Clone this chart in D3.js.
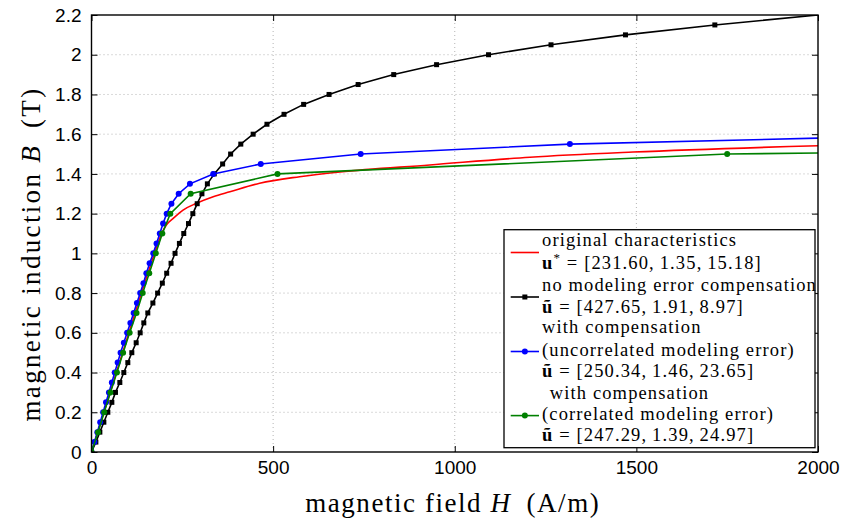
<!DOCTYPE html>
<html><head><meta charset="utf-8">
<script src="https://cdn.jsdelivr.net/npm/d3@7/dist/d3.min.js"></script>
<style>body{margin:0;background:#fff}svg{display:block}</style>
</head><body>
<svg id="chart" width="843" height="524"></svg>
<script>
// ---------- data (H in A/m, B in T) ----------
const xTicks = [0, 500, 1000, 1500, 2000];
const yTicks = [0, 0.2, 0.4, 0.6, 0.8, 1, 1.2, 1.4, 1.6, 1.8, 2, 2.2];
const yTickLabels = ["0","0.2","0.4","0.6","0.8","1","1.2","1.4","1.6","1.8","2","2.2"];
const xTickLabels = ["0","500","1000","1500","2000"];

// original characteristics (no markers)
const redH = [0, 60, 120, 170, 193, 206, 225, 252, 289, 335, 381, 463, 573, 684, 931, 1207, 1491, 2000];
const redB = [0, 0.35, 0.70, 0.98, 1.10, 1.143, 1.176, 1.218, 1.252, 1.285, 1.31, 1.353, 1.386, 1.41, 1.445, 1.484, 1.51, 1.542];

// no modeling error compensation (square markers)
const blackB = [0,0.05,0.1,0.15,0.2,0.25,0.3,0.35,0.4,0.45,0.5,0.55,0.6,0.65,0.7,0.75,0.8,0.85,0.9,0.95,1.0,1.05,1.1,1.15,1.2,1.25,1.3,1.35,1.4,1.45,1.5,1.55,1.6,1.65,1.7,1.75,1.8,1.85,1.9,1.95,2.0,2.05,2.1,2.15,2.2];
const blackH = [0,12,23,34,45,56,66,78,89,100,111,123,134,144,155,169,182,195,207,219,230,242,254,267,279,291,304,319,338,361,383,411,445,483,530,584,654,734,832,950,1093,1265,1470,1716,2000];

// with compensation, uncorrelated modeling error (circle markers)
const blueB = [0,0.05,0.1,0.15,0.2,0.25,0.3,0.35,0.4,0.45,0.5,0.55,0.6,0.65,0.7,0.75,0.8,0.85,0.9,0.95,1.0,1.05,1.1,1.15,1.2,1.25,1.3,1.35,1.4,1.45,1.5,1.55,1.58];
const blueH = [0,8,16,24,32,40,48,56,64,72,80,89,98,107,116,125,134,143,151,160,170,179,188,197,207,220,240,271,335,466,741,1317,2000];

// with compensation, correlated modeling error (circle markers)
const greenB = [0,0.1,0.2,0.3,0.4,0.5,0.6,0.7,0.8,0.9,1.0,1.1,1.2,1.3,1.4,1.5,1.505];
const greenH = [0,18,35,52,70,87,105,124,141,159,177,195,217,273,512,1750,2000];

const legendLines = [
  {t:"original characteristics"},
  {m:"u", sup:"*", t:" = [231.60,\u20091.35,\u200915.18]"},
  {t:"no modeling error compensation"},
  {m:"u\u0303", t:" = [427.65,\u20091.91,\u20098.97]"},
  {t:"with compensation"},
  {t:"(uncorrelated modeling error)"},
  {m:"u\u0303", t:" = [250.34,\u20091.46,\u200923.65]"},
  {t:"with compensation", indent:true},
  {t:"(correlated modeling error)"},
  {m:"u\u0303", t:" = [247.29,\u20091.39,\u200924.97]"}
];

// ---------- layout ----------
const svg = d3.select("#chart");
const L = 91.5, R = 818, T = 15, Bt = 452;
const x = d3.scaleLinear().domain([0, 2000]).range([L, R]);
const y = d3.scaleLinear().domain([0, 2.2]).range([Bt, T]);
const serif = "'Liberation Serif','Times New Roman',serif";
const sans = "'Liberation Sans',Arial,Helvetica,sans-serif";

svg.append("defs").append("clipPath").attr("id","clip")
  .append("rect").attr("x",L).attr("y",T).attr("width",R-L).attr("height",Bt-T);

// grid
const grid = svg.append("g").attr("stroke","#b4b4b4").attr("stroke-width",1).attr("stroke-dasharray","1,3");
xTicks.slice(1,-1).forEach(v => grid.append("line").attr("x1",x(v)).attr("x2",x(v)).attr("y1",T).attr("y2",Bt));
yTicks.slice(1,-1).forEach(v => grid.append("line").attr("x1",L).attr("x2",R).attr("y1",y(v)).attr("y2",y(v)));

// axes
function styleAxis(g){ g.select(".domain").remove(); g.selectAll(".tick line").attr("stroke","#000").attr("stroke-width",1); }
const xa = svg.append("g").attr("transform",`translate(0,${Bt})`)
  .call(d3.axisBottom(x).tickValues(xTicks).tickSize(-6).tickPadding(9).tickFormat((d,i)=>xTickLabels[i]));
styleAxis(xa);
xa.selectAll("text").attr("font-family",sans).attr("font-size",19).attr("fill","#000");
const ya = svg.append("g").attr("transform",`translate(${L},0)`)
  .call(d3.axisLeft(y).tickValues(yTicks).tickSize(-6).tickPadding(10).tickFormat((d,i)=>yTickLabels[i]));
styleAxis(ya);
ya.selectAll("text").attr("font-family",sans).attr("font-size",19).attr("fill","#000");
styleAxis(svg.append("g").attr("transform",`translate(0,${T})`).call(d3.axisTop(x).tickValues(xTicks).tickSize(-6).tickFormat("")));
styleAxis(svg.append("g").attr("transform",`translate(${R},0)`).call(d3.axisRight(y).tickValues(yTicks).tickSize(-6).tickFormat("")));

// series
const plot = svg.append("g").attr("clip-path","url(#clip)");
const line = d3.line().x(d=>x(d[0])).y(d=>y(d[1]));
const zip = (a,b)=>a.map((v,i)=>[v,b[i]]);
const red = zip(redH, redB), black = zip(blackH, blackB), blue = zip(blueH, blueB), green = zip(greenH, greenB);

plot.append("path").datum(red).attr("d", line.curve(d3.curveMonotoneX)).attr("fill","none").attr("stroke","#ff0000").attr("stroke-width",1.6);
line.curve(d3.curveLinear);
plot.append("path").datum(black).attr("d", line).attr("fill","none").attr("stroke","#000").attr("stroke-width",1.6);
plot.selectAll(".sq").data(black.filter(d=>d[0]<2000)).enter().append("rect")
  .attr("x",d=>x(d[0])-2.5).attr("y",d=>y(d[1])-2.5).attr("width",5).attr("height",5).attr("fill","#000");
plot.append("path").datum(blue).attr("d", line).attr("fill","none").attr("stroke","#0000ff").attr("stroke-width",1.6);
plot.selectAll(".bc").data(blue.filter(d=>d[0]<2000)).enter().append("circle")
  .attr("cx",d=>x(d[0])).attr("cy",d=>y(d[1])).attr("r",3).attr("fill","#0000ff");
plot.append("path").datum(green).attr("d", line).attr("fill","none").attr("stroke","#008000").attr("stroke-width",1.6);
plot.selectAll(".gc").data(green.filter(d=>d[0]<2000)).enter().append("circle")
  .attr("cx",d=>x(d[0])).attr("cy",d=>y(d[1])).attr("r",3).attr("fill","#008000");

// frame
svg.append("rect").attr("x",L).attr("y",T).attr("width",R-L).attr("height",Bt-T)
  .attr("fill","none").attr("stroke","#000").attr("stroke-width",1.4);

// widen text with letter-spacing to match target width (Computer Modern is wider than Times)
function fit(sel, target, nChars){
  sel.attr("letter-spacing", 0);
  const w = sel.node().getComputedTextLength();
  sel.attr("letter-spacing", Math.max(0,(target - w)/nChars));
}

// axis labels
const xl = svg.append("text").attr("x",(L+R)/2 - 2).attr("y",512).attr("text-anchor","middle")
  .attr("font-family",serif).attr("font-size",27).attr("fill","#000");
xl.append("tspan").text("magnetic field ");
xl.append("tspan").attr("font-style","italic").text("H");
xl.append("tspan").text("\u2002(A/m)");
fit(xl, 295, 22);
const yl = svg.append("text").attr("transform","translate(40,254) rotate(-90)").attr("text-anchor","middle")
  .attr("font-family",serif).attr("font-size",27).attr("fill","#000");
yl.append("tspan").text("magnetic induction ");
yl.append("tspan").attr("font-style","italic").text("B");
yl.append("tspan").text("\u2002(T)");
fit(yl, 335, 24);

// legend
const lg = svg.append("g");
lg.append("rect").attr("x",504).attr("y",229.7).attr("width",311).attr("height",218)
  .attr("fill","#fff").attr("stroke","#000").attr("stroke-width",1.3);
const rowY = [240, 263.6, 285.4, 307, 327, 350, 371.5, 393, 414.6, 435.7];
const fs = 18.5;
const texts = legendLines.map((d,i)=>{
  const t = lg.append("text").attr("x", d.indent ? 549.7 : 542).attr("y", rowY[i]+5.5)
    .attr("font-family",serif).attr("font-size",fs).attr("fill","#000");
  if (d.m){ t.append("tspan").attr("font-weight","bold").text(d.m);
    if (d.sup) t.append("tspan").attr("dy",-7).attr("font-size","0.7em").text(d.sup);
    t.append("tspan").attr("dy", d.sup?7:0).text(d.t);
  } else t.text(d.t);
  return t;
});
// letter-spacing so that "no modeling error compensation" spans ~275px
texts[2].attr("letter-spacing",0);
const w3 = texts[2].node().getComputedTextLength();
const ls = Math.max(0,(275 - w3)/30);
texts.forEach(t=>t.attr("letter-spacing",ls));

const sampleX1 = 510.7, sampleX2 = 539, sampleMid = (sampleX1+sampleX2)/2;
const samples = [
  {y:252.5, c:"#ff0000", mk:null},
  {y:297, c:"#000", mk:"sq"},
  {y:351.5, c:"#0000ff", mk:"c"},
  {y:415.6, c:"#008000", mk:"c"}
];
samples.forEach(s=>{
  lg.append("line").attr("x1",sampleX1).attr("x2",sampleX2).attr("y1",s.y).attr("y2",s.y).attr("stroke",s.c).attr("stroke-width",1.6);
  if (s.mk==="sq") lg.append("rect").attr("x",sampleMid-2.5).attr("y",s.y-2.5).attr("width",5).attr("height",5).attr("fill",s.c);
  if (s.mk==="c") lg.append("circle").attr("cx",sampleMid).attr("cy",s.y).attr("r",3).attr("fill",s.c);
});
</script>
</body></html>
